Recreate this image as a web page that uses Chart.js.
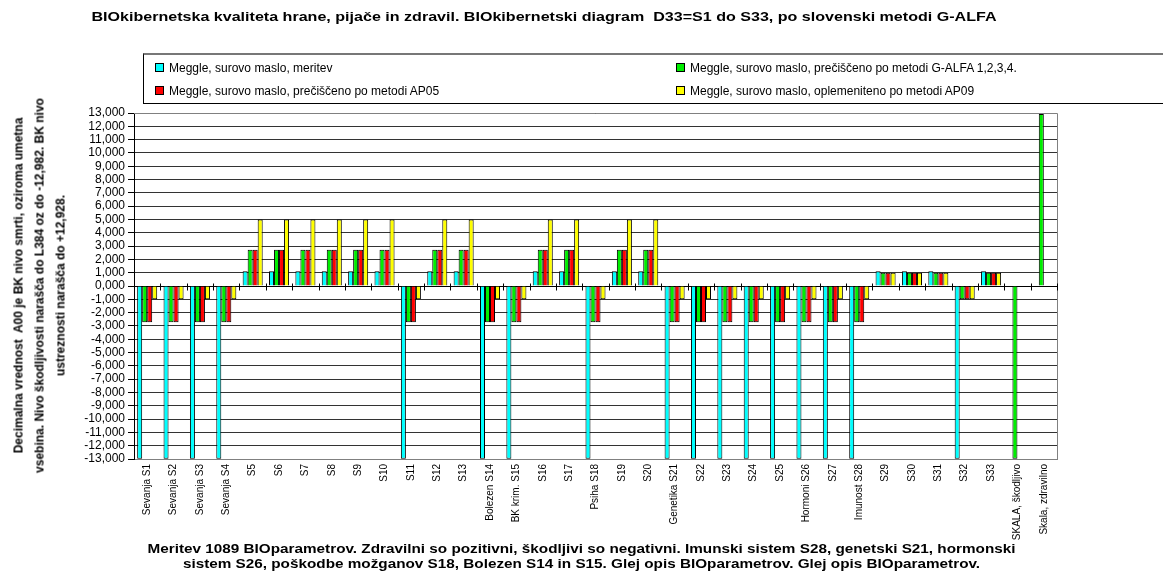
<!DOCTYPE html>
<html>
<head>
<meta charset="utf-8">
<script src="https://cdn.jsdelivr.net/npm/chart.js@4.4.1/dist/chart.umd.min.js"></script>
<style>
html, body { margin: 0; padding: 0; background: #fff; }
body { width: 1163px; height: 571px; overflow: hidden; position: relative; font-family: 'Liberation Sans', Arial, sans-serif; color: #000; }
#chart { position: absolute; left: 0; top: 0; }
#title { position: absolute; top: 9px; left: 0; width: 1088px; text-align: center; font-weight: bold; font-size: 13px; line-height: 16px; white-space: nowrap; transform: scaleX(1.236); }
#legend { position: absolute; left: 143px; top: 53px; width: 1040px; height: 51px; box-sizing: border-box; border: 1px solid #000; border-top: 2px solid #777; }
.item { position: absolute; font-size: 12px; line-height: 13px; white-space: nowrap; }
.item .box { display: inline-block; width: 7px; height: 7px; border: 1px solid #000; margin-right: 5px; }
#ytitle { position: absolute; left: -160px; top: 254px; width: 400px; height: 63px; transform: rotate(-90deg); text-align: center; font-weight: bold; font-size: 12px; line-height: 21px; white-space: nowrap; font-family: 'Liberation Sans Narrow', 'Arial Narrow', 'Liberation Sans', sans-serif; }
#caption { position: absolute; left: 0; top: 541px; width: 1163px; text-align: center; font-weight: bold; font-size: 13px; line-height: 15px; white-space: nowrap; transform: scaleX(1.176); }
</style>
</head>
<body>
<canvas id="chart" width="1163" height="571"></canvas>
<div id="title">BIOkibernetska kvaliteta hrane, pijače in zdravil. BIOkibernetski diagram&nbsp; D33=S1 do S33, po slovenski metodi G-ALFA</div>
<div id="legend"></div>
<div id="ytitle">Decimalna vrednost&nbsp; A00 je BK nivo smrti, oziroma umetna<br>vsebina. Nivo škodljivosti narašča do L384 oz do -12,982. BK nivo<br>ustreznosti narašča do +12,928.</div>
<div id="caption">Meritev 1089 BIOparametrov. Zdravilni so pozitivni, škodljivi so negativni. Imunski sistem S28, genetski S21, hormonski<br>sistem S26, poškodbe možganov S18, Bolezen S14 in S15. Glej opis BIOparametrov. Glej opis BIOparametrov.</div>
<script>
const categories = [
  'Sevanja S1', 'Sevanja S2', 'Sevanja S3', 'Sevanja S4', 'S5', 'S6', 'S7', 'S8', 'S9', 'S10',
  'S11', 'S12', 'S13', 'Bolezen S14', 'BK krim. S15', 'S16', 'S17', 'Psiha S18', 'S19', 'S20',
  'Genetika S21', 'S22', 'S23', 'S24', 'S25', 'Hormoni S26', 'S27', 'Imunost S28', 'S29', 'S30',
  'S31', 'S32', 'S33', 'SKALA, škodljivo', 'Skala, zdravilno'
];

const meritev = [
  -12.982, -12.982, -12.982, -12.982, 1.1, 1.1, 1.1, 1.1, 1.1, 1.1,
  -12.982, 1.1, 1.1, -12.982, -12.982, 1.1, 1.1, -12.982, 1.1, 1.1,
  -12.982, -12.982, -12.982, -12.982, -12.982, -12.982, -12.982, -12.982, 1.1, 1.1,
  1.1, -12.982, 1.1, null, null
];
const g_alfa = [
  -2.72, -2.72, -2.72, -2.72, 2.72, 2.72, 2.72, 2.72, 2.72, 2.72,
  -2.72, 2.72, 2.72, -2.72, -2.72, 2.72, 2.72, -2.72, 2.72, 2.72,
  -2.72, -2.72, -2.72, -2.72, -2.72, -2.72, -2.72, -2.72, 1.0, 1.0,
  1.0, -1.0, 1.0, -12.982, 12.928
];
const ap05 = [
  -2.72, -2.72, -2.72, -2.72, 2.72, 2.72, 2.72, 2.72, 2.72, 2.72,
  -2.72, 2.72, 2.72, -2.72, -2.72, 2.72, 2.72, -2.72, 2.72, 2.72,
  -2.72, -2.72, -2.72, -2.72, -2.72, -2.72, -2.72, -2.72, 1.0, 1.0,
  1.0, -1.0, 1.0, null, null
];
const ap09 = [
  -1.0, -1.0, -1.0, -1.0, 5.0, 5.0, 5.0, 5.0, 5.0, 5.0,
  -1.0, 5.0, 5.0, -1.0, -1.0, 5.0, 5.0, -1.0, 5.0, 5.0,
  -1.0, -1.0, -1.0, -1.0, -1.0, -1.0, -1.0, -1.0, 1.0, 1.0,
  1.0, -1.0, 1.0, null, null
];

const series_names = [
  'Meggle, surovo maslo, meritev',
  'Meggle, surovo maslo, prečiščeno po metodi G-ALFA 1,2,3,4.',
  'Meggle, surovo maslo, prečiščeno po metodi AP05',
  'Meggle, surovo maslo, oplemeniteno po metodi AP09'
];
const series_colors = ['#00FFFF', '#00EE00', '#FF0000', '#FFFF00'];

const Y_MIN = -13;
const Y_MAX = 13;

function fmt_tick(v) {
  return v.toFixed(3).replace('.', ',');
}

// gray frame on top/right and small ticks on the zero line
const frame_plugin = {
  id: 'frame',
  beforeDatasetsDraw(chart) {
    const ctx = chart.ctx;
    const a = chart.chartArea;
    const x = chart.scales.x;
    const y = chart.scales.y;
    ctx.save();
    ctx.lineWidth = 1;
    ctx.strokeStyle = '#808080';
    ctx.beginPath();
    ctx.moveTo(a.left, a.top + 0.5);
    ctx.lineTo(a.right + 0.5, a.top + 0.5);
    ctx.lineTo(a.right + 0.5, a.bottom);
    ctx.stroke();
    const y0 = Math.round(y.getPixelForValue(0)) + 0.5;
    ctx.strokeStyle = '#000';
    ctx.beginPath();
    for (let i = 0; i <= categories.length; i++) {
      const px = Math.round(x.getPixelForValue(i - 0.5)) + 0.5;
      ctx.moveTo(px, y0 - 3);
      ctx.lineTo(px, y0 + 4);
    }
    ctx.stroke();
    ctx.restore();
  }
};

Chart.defaults.font.family = "'Liberation Sans', Arial, sans-serif";
Chart.defaults.color = '#000';

const datasets = [meritev, g_alfa, ap05, ap09].map((vals, i) => ({
  label: series_names[i],
  data: vals,
  backgroundColor: series_colors[i],
  borderColor: '#000',
  borderWidth: 1,
  categoryPercentage: 0.76,
  barPercentage: 1.0
}));

const chart = new Chart(document.getElementById('chart'), {
  type: 'bar',
  data: { labels: categories, datasets: datasets },
  options: {
    responsive: false,
    animation: false,
    devicePixelRatio: 1,
    layout: { padding: { top: 113, right: 106, left: 0, bottom: 0 } },
    plugins: {
      legend: { display: false },
      title: { display: false },
      tooltip: { enabled: false }
    },
    scales: {
      x: {
        offset: true,
        grid: { display: false, drawTicks: false },
        border: { display: true, color: '#808080', width: 1 },
        ticks: {
          autoSkip: false,
          maxRotation: 90,
          minRotation: 90,
          padding: 5,
          font: { size: 10 }
        },
        afterFit: s => { s.height = 571 - 459; }
      },
      y: {
        min: Y_MIN,
        max: Y_MAX,
        ticks: {
          stepSize: 1,
          autoSkip: false,
          padding: 3,
          font: { size: 12 },
          callback: v => fmt_tick(v)
        },
        grid: {
          color: c => (c.tick && c.tick.value === 0) ? '#000' : '#333',
          tickLength: 6,
          tickColor: '#000'
        },
        border: { color: '#000', width: 1 },
        afterFit: s => { s.width = 134; }
      }
    }
  },
  plugins: [frame_plugin]
});

function build_legend(chart) {
  const el = document.getElementById('legend');
  const pos = [[11, 7], [532, 7], [11, 30], [532, 30]];
  chart.data.datasets.forEach((ds, i) => {
    const item = document.createElement('div');
    item.className = 'item';
    item.style.left = pos[i][0] + 'px';
    item.style.top = pos[i][1] + 'px';
    const box = document.createElement('span');
    box.className = 'box';
    box.style.background = ds.backgroundColor;
    item.appendChild(box);
    item.appendChild(document.createTextNode(ds.label));
    el.appendChild(item);
  });
}

build_legend(chart);
</script>
</body>
</html>
